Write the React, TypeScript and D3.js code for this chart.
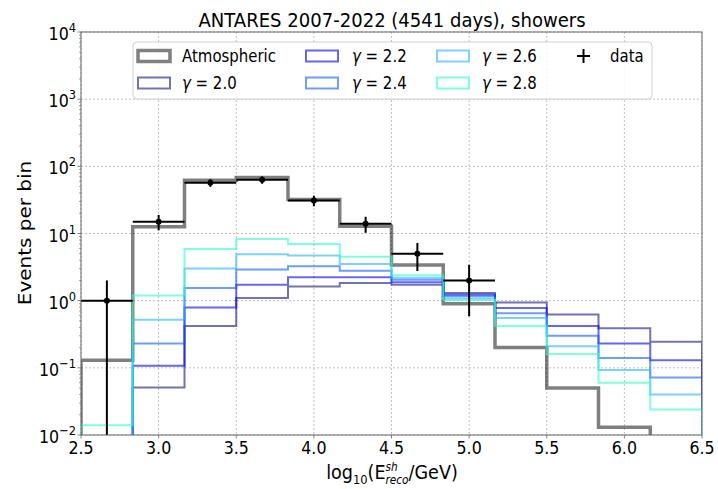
import React from "react";
import * as d3 from "d3";

// Bin edges in log10(E/GeV)
const binEdges = [2.5, 2.8333, 3.1667, 3.5, 3.8333, 4.1667, 4.5, 4.8333, 5.1667, 5.5, 5.8333, 6.1667, 6.5];

// Expected events per bin
const atmospheric = [0.13, 12.6, 62, 68, 32, 12.8, 3.4, 0.9, 0.2, 0.05, 0.013, 0];
const gamma20 = [0.003, 0.051, 0.42, 1.1, 1.62, 1.84, 1.73, 1.3, 0.94, 0.62, 0.39, 0.245];
const gamma22 = [0.004, 0.107, 0.79, 1.73, 2.23, 2.23, 1.88, 1.23, 0.78, 0.42, 0.23, 0.13];
const gamma24 = [0.006, 0.23, 1.55, 2.9, 3.25, 2.8, 2.05, 1.16, 0.65, 0.3, 0.14, 0.072];
const gamma26 = [0.009, 0.52, 3.0, 4.9, 4.7, 3.5, 2.2, 1.08, 0.55, 0.21, 0.093, 0.04];
const gamma28 = [0.014, 1.19, 5.9, 8.3, 7.0, 4.5, 2.4, 1.02, 0.42, 0.16, 0.06, 0.024];

// Observed events (first eight bins)
const dataCounts = [1, 15, 57, 63, 31, 14, 5, 2];

const xTicks = [2.5, 3.0, 3.5, 4.0, 4.5, 5.0, 5.5, 6.0, 6.5];
const yExponents = [-2, -1, 0, 1, 2, 3, 4];

const signalSeries = [
  { label: "2.0", values: gamma20, color: "rgb(20,20,130)" },
  { label: "2.2", values: gamma22, color: "rgb(0,0,230)" },
  { label: "2.4", values: gamma24, color: "rgb(15,90,255)" },
  { label: "2.6", values: gamma26, color: "rgb(42,177,255)" },
  { label: "2.8", values: gamma28, color: "rgb(43,255,204)" },
];

const FONT = "DejaVu Sans";
const SX = 0.88;

const W = 718;
const H = 489;
const L = 81, R = 702, T = 32, B = 435;

const x = d3.scaleLinear().domain([2.5, 6.5]).range([L, R]);
const y = d3.scaleLog().domain([1e-2, 1e4]).range([B, T]);
const yv = (v: number) => (v > 0 ? y(v) : B + 20);

function stepPath(values: number[]) {
  const p = d3.path();
  p.moveTo(x(binEdges[0]), B + 20);
  values.forEach((v, i) => {
    p.lineTo(x(binEdges[i]), yv(v));
    p.lineTo(x(binEdges[i + 1]), yv(v));
  });
  p.lineTo(x(binEdges[binEdges.length - 1]), B + 20);
  return p.toString();
}

function SText({ x: tx, y: ty, size, anchor = "start", sx = SX, rotate, children }: any) {
  return (
    <g transform={`translate(${tx},${ty}) scale(${sx},1)${rotate ? ` rotate(${rotate})` : ""}`}>
      <text textAnchor={anchor} fontSize={size} fontFamily={FONT} fill="#000">
        {children}
      </text>
    </g>
  );
}

export default function App() {
  const minorY: number[] = [];
  for (let e = -2; e < 4; e++) {
    for (let k = 2; k <= 9; k++) minorY.push(k * Math.pow(10, e));
  }

  const legendRows = [56, 83];
  const legendItems = [
    { col: 0, row: 0, kind: "atm" },
    { col: 0, row: 1, idx: 0 },
    { col: 1, row: 0, idx: 1 },
    { col: 1, row: 1, idx: 2 },
    { col: 2, row: 0, idx: 3 },
    { col: 2, row: 1, idx: 4 },
  ];
  const colHandle = [138, 306, 437];
  const colText = [182, 352, 482];

  return (
    <svg width={W} height={H} style={{ position: "absolute", left: 0, top: 0, background: "#fff" }}>
      <defs>
        <clipPath id="plotClip">
          <rect x={L} y={T} width={R - L} height={B - T} />
        </clipPath>
      </defs>
      <rect width={W} height={H} fill="#fff" />

      {/* grid */}
      <g stroke="#b0b0b0" strokeWidth={0.8} strokeDasharray="2,2">
        {xTicks.map((t) => (
          <line key={"gx" + t} x1={x(t)} x2={x(t)} y1={T} y2={B} />
        ))}
        {yExponents.map((e) => (
          <line key={"gy" + e} x1={L} x2={R} y1={y(Math.pow(10, e))} y2={y(Math.pow(10, e))} />
        ))}
      </g>

      {/* histograms */}
      <g clipPath="url(#plotClip)" fill="none">
        <path d={stepPath(atmospheric)} stroke="#000" strokeOpacity={0.5} strokeWidth={3.5} />
        {signalSeries.map((s) => (
          <path key={s.label} d={stepPath(s.values)} stroke={s.color} strokeOpacity={0.6} strokeWidth={2} />
        ))}
        {/* data points with Poisson errors */}
        {dataCounts.map((n, i) => {
          const cx = x((binEdges[i] + binEdges[i + 1]) / 2);
          const err = Math.sqrt(n);
          const lo = n - err;
          return (
            <g key={"d" + i} stroke="#000" strokeWidth={2}>
              <line x1={x(binEdges[i])} x2={x(binEdges[i + 1])} y1={y(n)} y2={y(n)} />
              <line x1={cx} x2={cx} y1={y(n + err)} y2={lo > 0 ? y(lo) : B + 20} />
              <circle cx={cx} cy={y(n)} r={3} fill="#000" stroke="none" />
            </g>
          );
        })}
      </g>

      {/* frame */}
      <rect x={L} y={T} width={R - L} height={B - T} fill="none" stroke="#666" strokeWidth={1} />

      {/* ticks */}
      <g stroke="#666" strokeWidth={0.8}>
        {xTicks.map((t) => (
          <line key={"tx" + t} x1={x(t)} x2={x(t)} y1={B} y2={B + 3.5} />
        ))}
        {yExponents.map((e) => (
          <line key={"ty" + e} x1={L - 3.5} x2={L} y1={y(Math.pow(10, e))} y2={y(Math.pow(10, e))} />
        ))}
        {minorY.map((v, i) => (
          <line key={"my" + i} x1={L - 2} x2={L} y1={y(v)} y2={y(v)} strokeWidth={0.6} />
        ))}
      </g>

      {/* tick labels */}
      {xTicks.map((t) => (
        <SText key={"lx" + t} x={x(t)} y={454} size={18} anchor="middle">
          {t.toFixed(1)}
        </SText>
      ))}
      {yExponents.map((e) => (
        <SText key={"ly" + e} x={76} y={y(Math.pow(10, e)) + 8} size={18} anchor="end">
          10
          <tspan fontSize={13} dy={-8}>
            {e < 0 ? "\u2212" + Math.abs(e) : String(e)}
          </tspan>
        </SText>
      ))}

      {/* axis labels */}
      <SText x={392} y={479} size={20} anchor="middle">
        log
        <tspan fontSize={13} dy={5}>10</tspan>
        <tspan dy={-5}>(E</tspan>
        <tspan fontSize={12} fontStyle="italic" dy={-8}>sh</tspan>
        <tspan fontSize={12} fontStyle="italic" dx={-14} dy={13}>reco</tspan>
        <tspan dy={-5}>/GeV)</tspan>
      </SText>
      <g transform="translate(31,233) scale(0.86,1) rotate(-90)">
        <text textAnchor="middle" fontSize={20} fontFamily={FONT} fill="#000">
          Events per bin
        </text>
      </g>

      {/* title */}
      <SText x={392} y={27} size={19} anchor="middle" sx={0.95}>
        ANTARES 2007-2022 (4541 days), showers
      </SText>

      {/* legend */}
      <g>
        <rect x={133} y={42} width={519} height={57} rx={4} fill="#fff" fillOpacity={0.85} stroke="#d0d0d0" strokeWidth={1} />
        {legendItems.map((it, k) => {
          const cy = legendRows[it.row];
          const hx = colHandle[it.col];
          const isAtm = it.kind === "atm";
          const s = isAtm ? null : signalSeries[it.idx as number];
          return (
            <g key={"lg" + k}>
              <rect
                x={hx}
                y={cy - 5.5}
                width={32}
                height={11}
                fill="none"
                stroke={isAtm ? "#000" : s!.color}
                strokeOpacity={isAtm ? 0.5 : 0.6}
                strokeWidth={isAtm ? 3.5 : 2}
              />
              <SText x={colText[it.col]} y={cy + 6} size={17}>
                {isAtm ? (
                  "Atmospheric"
                ) : (
                  <>
                    <tspan fontStyle="italic">γ</tspan>
                    {" = " + s!.label}
                  </>
                )}
              </SText>
            </g>
          );
        })}
        <g stroke="#000" strokeWidth={2}>
          <line x1={577} x2={590} y1={legendRows[0]} y2={legendRows[0]} />
          <line x1={583.5} x2={583.5} y1={legendRows[0] - 7} y2={legendRows[0] + 7} />
        </g>
        <SText x={610} y={legendRows[0] + 6} size={17}>
          data
        </SText>
      </g>
    </svg>
  );
}
